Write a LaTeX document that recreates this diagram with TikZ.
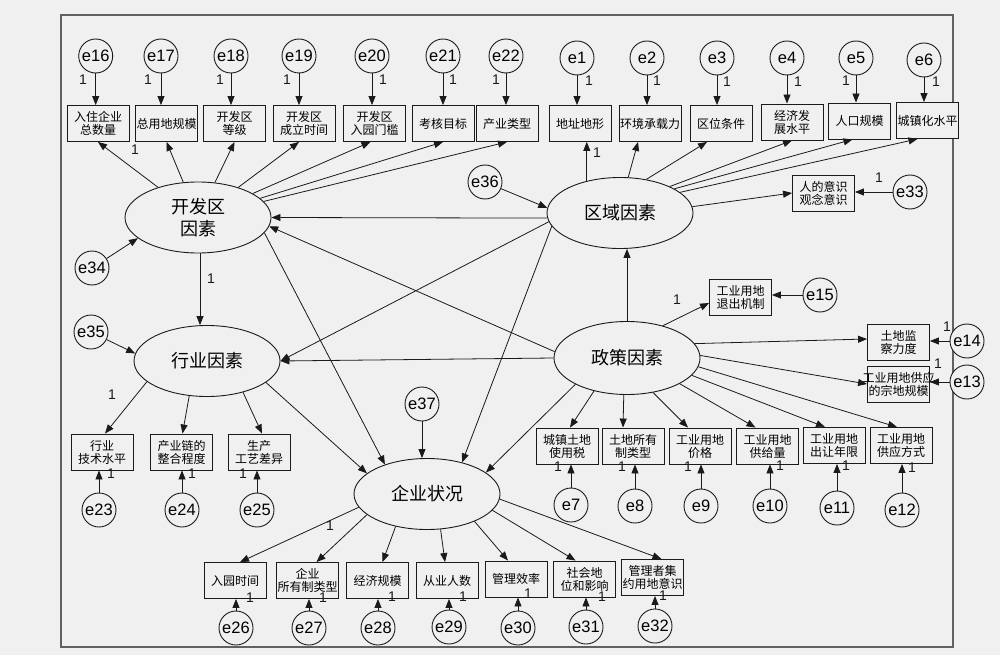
\documentclass[tikz,border=0pt]{standalone}
\usepackage{fontspec}
\setmainfont{Liberation Sans}
\newfontfamily\cjk{Noto Sans CJK SC}
\usetikzlibrary{arrows.meta,shapes.geometric,calc}
\definecolor{bg}{HTML}{F0F0F0}
\definecolor{ln}{HTML}{1A1A1A}
\newcommand{\ovl}[1]{\makebox[0pt]{#1}}
\begin{document}
\begin{tikzpicture}[x=1pt,y=-1pt,
 arr/.style={draw=ln, line width=0.8pt, -{Triangle[length=9pt,width=7pt]}},
 obs/.style={draw=ln, fill=bg, line width=0.9pt, rectangle, minimum width=62pt, minimum height=36pt, inner sep=0pt, align=center, font=\cjk\fontsize{12}{13}\selectfont},
 lat/.style={draw=ln, fill=bg, line width=0.9pt, ellipse, minimum width=146pt, minimum height=71pt, inner sep=0pt, align=center, font=\cjk\fontsize{18}{22}\selectfont},
 err/.style={draw=ln, fill=bg, line width=0.9pt, circle, minimum size=34pt, inner sep=0pt, font=\fontsize{16.5}{16.5}\selectfont},
 one/.style={font=\fontsize{14}{14}\selectfont, inner sep=0pt, text=ln},
]
\useasboundingbox (0,0) rectangle (1000,655);
\fill[bg] (0,0) rectangle (1000,655);
\draw[draw=black!62, line width=1.3pt] (61,15) rectangle (953,647);

% latent variables
\node[lat] (kfq) at (198,217.5) {开发区\\因素};
\node[lat] (hy)  at (207,361) {行业因素};
\node[lat] (qy)  at (620,213) {区域因素};
\node[lat, minimum height=73pt] (zc)  at (627,358) {政策因素};
\node[lat] (qs)  at (427,494) {企业状况};

% top-left indicators
\node[obs] (b16) at (98,123.5) {入住企业\\总数量};
\node[obs] (b17) at (166.5,123.5) {总用地规模};
\node[obs] (b18) at (234.5,123.5) {开发区\\等级};
\node[obs] (b19) at (304,123.5) {开发区\\成立时间};
\node[obs] (b20) at (374.5,123.5) {开发区\\入园门槛};
\node[obs] (b21) at (443,123.5) {考核目标};
\node[obs] (b22) at (507,123.5) {产业类型};
\node[err] (e16) at (95.7,56) {e16};
\node[err] (e17) at (161,56) {e17};
\node[err] (e18) at (231,56) {e18};
\node[err] (e19) at (299,56) {e19};
\node[err] (e20) at (372,56) {e20};
\node[err] (e21) at (443,56) {e21};
\node[err] (e22) at (506,56) {e22};

% top-right indicators
\node[obs] (b1) at (580,123.5) {地址地形};
\node[obs] (b2) at (650,123.5) {环境承载力};
\node[obs] (b3) at (721,123.5) {区位条件};
\node[obs] (b4) at (792,122) {经济发\\展水平};
\node[obs] (b5) at (859.5,121) {人口规模};
\node[obs] (b6) at (927.5,120.5) {城镇化水平};
\node[err] (e1) at (577,58) {e1};
\node[err] (e2) at (647,58) {e2};
\node[err] (e3) at (717,58) {e3};
\node[err] (e4) at (787,58) {e4};
\node[err] (e5) at (856,58) {e5};
\node[err] (e6) at (924,60) {e6};
\node[obs] (b33) at (823.5,193) {人的意识\\观念意识};
\node[err] (e33) at (910,192) {e33};

% policy indicators
\node[obs] (b15) at (740.5,297) {工业用地\\退出机制};
\node[err] (e15) at (820,295) {e15};
\node[obs] (b14) at (898.5,342) {土地监\\察力度};
\node[err] (e14) at (967,341) {e14};
\node[obs] (b13) at (898.5,384) {\ovl{工业用地供应}\\\ovl{的宗地规模}};
\node[err] (e13) at (967,382) {e13};
\node[obs] (b7)  at (567,446) {城镇土地\\使用税};
\node[obs] (b8)  at (633,446) {土地所有\\制类型};
\node[obs] (b9)  at (700,446) {工业用地\\价格};
\node[obs] (b10) at (767.5,446) {工业用地\\供给量};
\node[obs] (b11) at (834,445.5) {工业用地\\出让年限};
\node[obs] (b12) at (901,445.5) {工业用地\\供应方式};
\node[err] (e7)  at (571,505) {e7};
\node[err] (e8)  at (635,506) {e8};
\node[err] (e9)  at (701,506) {e9};
\node[err] (e10) at (770,506) {e10};
\node[err] (e11) at (837,508) {e11};
\node[err] (e12) at (902,510) {e12};

% industry indicators
\node[obs] (b23) at (102,452) {行业\\技术水平};
\node[obs] (b24) at (181.5,452) {产业链的\\整合程度};
\node[obs] (b25) at (259,452) {生产\\工艺差异};
\node[err] (e23) at (99,510) {e23};
\node[err] (e24) at (182,510) {e24};
\node[err] (e25) at (257,510) {e25};

% enterprise indicators
\node[obs] (b26) at (235,580.5) {入园时间};
\node[obs] (b27) at (307.5,580.5) {企业\\所有制类型};
\node[obs] (b28) at (377.5,580.5) {经济规模};
\node[obs] (b29) at (447,580.5) {从业人数};
\node[obs] (b30) at (516,579) {管理效率};
\node[obs] (b31) at (584.5,579) {社会地\\位和影响};
\node[obs] (b32) at (652.5,577.5) {管理者集\\约用地意识};
\node[err] (e26) at (236,628) {e26};
\node[err] (e27) at (309,628) {e27};
\node[err] (e28) at (378,628) {e28};
\node[err] (e29) at (449,627) {e29};
\node[err] (e30) at (518,628) {e30};
\node[err] (e31) at (586,627) {e31};
\node[err] (e32) at (655,626) {e32};

% disturbances
\node[err] (e34) at (92,268) {e34};
\node[err] (e35) at (91,332) {e35};
\node[err] (e36) at (485,182) {e36};
\node[err] (e37) at (422,404) {e37};

% structural paths
\draw[arr] (qy.184) -- (kfq.east);
\draw[arr] (zc.175) -- (kfq.-7);
\draw[arr] (qy.187) -- (hy.east);
\draw[arr] (zc.west) -- (hy.east);
\draw[arr] (kfq.-13) -- (qs.145);
\draw[arr] (hy.-20) -- (qs.161);
\draw[arr] (qy.191) -- (qs.42);
\draw[arr] (zc.207) -- (qs.20);
\draw[arr] (zc.north) -- (zc.north |- qy.south);
\draw[arr] ([xshift=2pt]kfq.south) -- ([xshift=2pt]kfq.south |- hy.north);
\draw[arr] (e34) -- (kfq.199);
\draw[arr] (e35) -- (hy.174);
\draw[arr] (e36) -- (qy.176);
\draw[arr] (e37) -- (e37 |- qs.north);

% kfq indicators
\draw[arr] (kfq) -- (b16.south);
\draw[arr] (kfq) -- (b17.south);
\draw[arr] (kfq) -- (b18.south);
\draw[arr] (kfq) -- ([xshift=-5pt]b19.south);
\draw[arr] (kfq) -- ([xshift=-4pt]b20.south);
\draw[arr] (kfq) -- (b21.south);
\draw[arr] (kfq) -- (b22.south);

% qy indicators
\draw[arr] (qy.136) -- (qy.136 |- b1.south);
\draw[arr] (qy.77) -- ([xshift=-12pt]b2.south);
\draw[arr] (qy.52) -- ([xshift=-14pt]b3.south);
\draw[arr] (qy.28) -- (b4.south);
\draw[arr] (qy.24) -- ([xshift=-7pt]b5.south);
\draw[arr] (qy.19) -- ([xshift=-10pt]b6.south);
\draw[arr] (qy.5) -- (b33.west);

% zc indicators
\draw[arr] (zc.42) -- ([yshift=-6pt]b15.west);
\draw[arr] (zc.12) -- ([yshift=3pt]b14.west);
\draw[arr] (zc.2) -- (b13.west);
\draw[arr] (zc.225) -- ([xshift=3pt]b7.north);
\draw[arr] (zc.265) -- ([xshift=-10pt]b8.north);
\draw[arr] (zc.-53) -- ([xshift=-12pt]b9.north);
\draw[arr] (zc.-26) -- ([xshift=-12pt]b10.north);
\draw[arr] (zc.-15) -- ([xshift=-9pt]b11.north);
\draw[arr] (zc.-7) -- ([xshift=-4pt]b12.north);

% hy indicators
\draw[arr] (hy.199) -- ([xshift=3pt]b23.north);
\draw[arr] (hy.243) -- ([xshift=1pt]b24.north);
\draw[arr] (hy.-41) -- ([xshift=3pt]b25.north);

% qs indicators
\draw[arr] (qs.191) -- ([xshift=5pt]b26.north);
\draw[arr] (qs.199) -- ([xshift=9pt]b27.north);
\draw[arr] (qs.226) -- ([xshift=5pt]b28.north);
\draw[arr] (qs.-69) -- ([xshift=-2pt]b29.north);
\draw[arr] (qs.-30) -- ([xshift=-8pt]b30.north);
\draw[arr] (qs.-14) -- ([xshift=-9pt]b31.north);
\draw[arr] (qs.-4) -- ([xshift=9pt]b32.north);

% error arrows
\foreach \e/\b in {e16/b16,e17/b17,e18/b18,e19/b19,e20/b20,e21/b21,e22/b22,e1/b1,e2/b2,e3/b3,e4/b4,e5/b5,e6/b6}
  \draw[arr] (\e) -- (\e |- \b.north);
\foreach \e/\b in {e7/b7,e8/b8,e9/b9,e10/b10,e11/b11,e12/b12,e23/b23,e24/b24,e25/b25,e26/b26,e27/b27,e28/b28,e29/b29,e30/b30,e31/b31,e32/b32}
  \draw[arr] (\e) -- (\e |- \b.south);
\foreach \e/\b in {e33/b33,e15/b15,e14/b14,e13/b13}
  \draw[arr] (\e) -- (\e -| \b.east);

% labels "1"
\node[one] (l16) at (83,80) {1};
\node[one] (l17) at (148,80) {1};
\node[one] (l18) at (220,80) {1};
\node[one] (l19) at (287,80) {1};
\node[one] (l20) at (383,80) {1};
\node[one] (l21) at (453,80) {1};
\node[one] (l22) at (496,80) {1};
\node[one] (l1) at (589,81) {1};
\node[one] (l2) at (657,81) {1};
\node[one] (l3) at (727,82) {1};
\node[one] (l4) at (798,82) {1};
\node[one] (l5) at (846,81) {1};
\node[one] (l6) at (936,82) {1};
\node[one] (l7) at (558,467) {1};
\node[one] (l8) at (622,467) {1};
\node[one] (l9) at (688,467) {1};
\node[one] (l10) at (780,466) {1};
\node[one] (l11) at (846,466) {1};
\node[one] (l12) at (912,468) {1};
\node[one] (l26) at (250,598) {1};
\node[one] (l27) at (323,598) {1};
\node[one] (l28) at (392,597) {1};
\node[one] (l29) at (463,597) {1};
\node[one] (l30) at (528,594) {1};
\node[one] (l31) at (602,597) {1};
\node[one] (l32) at (663,596) {1};
\node[one] (l23) at (111,474) {1};
\node[one] (l24) at (192,474) {1};
\node[one] (l25) at (243,474) {1};
\node[one] (l33) at (879,178) {1};
\node[one] (l14) at (947,327) {1};
\node[one] (l13) at (938,364) {1};
\node[one] (lk1) at (135,150) {1};
\node[one] (lq1) at (597,153) {1};
\node[one] (lz1) at (677,300) {1};
\node[one] (lh1) at (112,395) {1};
\node[one] (lqs1) at (330,526) {1};
\node[one] (lkh) at (211,279) {1};
\end{tikzpicture}
\end{document}
